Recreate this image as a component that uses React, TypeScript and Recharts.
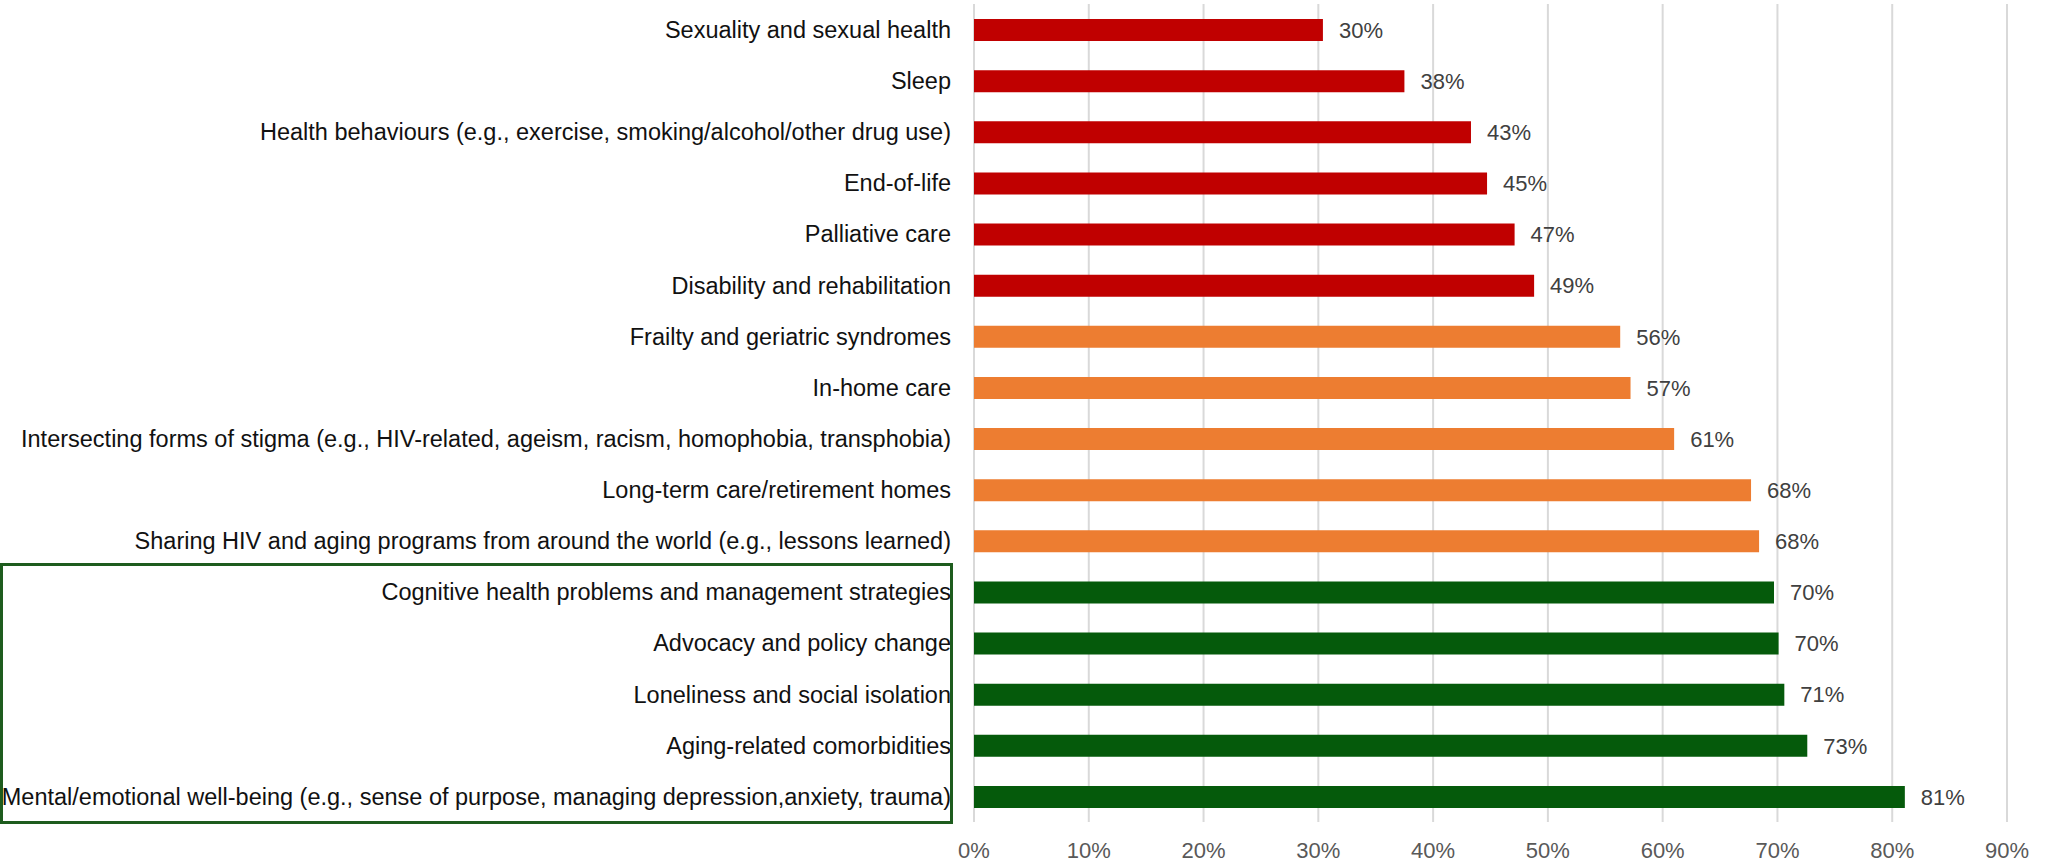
import { BarChart, Bar, XAxis, YAxis, CartesianGrid, Cell, LabelList } from 'recharts';

document.body.style.margin = '0';

const topics = [
  'Sexuality and sexual health',
  'Sleep',
  'Health behaviours (e.g., exercise, smoking/alcohol/other drug use)',
  'End-of-life',
  'Palliative care',
  'Disability and rehabilitation',
  'Frailty and geriatric syndromes',
  'In-home care',
  'Intersecting forms of stigma (e.g., HIV-related, ageism, racism, homophobia, transphobia)',
  'Long-term care/retirement homes',
  'Sharing HIV and aging programs from around the world (e.g., lessons learned)',
  'Cognitive health problems and management strategies',
  'Advocacy and policy change',
  'Loneliness and social isolation',
  'Aging-related comorbidities',
  'Mental/emotional well-being (e.g., sense of purpose, managing depression,anxiety, trauma)',
];

const shares = [30.4, 37.5, 43.3, 44.7, 47.1, 48.8, 56.3, 57.2, 61.0, 67.7, 68.4, 69.7, 70.1, 70.6, 72.6, 81.1];

const tiers = ['low', 'low', 'low', 'low', 'low', 'low', 'mid', 'mid', 'mid', 'mid', 'mid', 'high', 'high', 'high', 'high', 'high'];

const xTicks = [0, 10, 20, 30, 40, 50, 60, 70, 80, 90];

const tierColors: Record<string, string> = {
  low: '#C00000',
  mid: '#ED7D31',
  high: '#055A0B',
};

const rows = topics.map((topic, i) => ({ topic, share: shares[i], tier: tiers[i] }));

const W = 2048;
const H = 863;
const TOP = 4;
const RIGHT = 41;
const AXIS_W = 974;
const AXIS_H = 41;

export default function App() {
  const band = (H - TOP - AXIS_H) / rows.length;
  const firstHigh = tiers.indexOf('high');
  const boxTop = TOP + firstHigh * band - 3;
  const boxBottom = TOP + rows.length * band + 2;

  return (
    <div style={{ position: 'relative', width: W, height: H, background: '#fff' }}>
      <BarChart
        width={W}
        height={H}
        data={rows}
        layout="vertical"
        margin={{ top: TOP, right: RIGHT, bottom: 0, left: 0 }}
        barCategoryGap="58%"
      >
        <CartesianGrid horizontal={false} stroke="#d9d9d9" strokeWidth={2} />
        <XAxis
          type="number"
          domain={[0, 90]}
          ticks={xTicks}
          tickFormatter={(v) => `${v}%`}
          axisLine={false}
          tickLine={false}
          tickSize={0}
          tickMargin={20}
          height={AXIS_H}
          interval={0}
          tick={{ fill: '#595959', fontSize: 22, fontFamily: 'Liberation Sans, sans-serif' }}
        />
        <YAxis
          type="category"
          dataKey="topic"
          width={AXIS_W}
          axisLine={false}
          tickLine={false}
          tickSize={0}
          tickMargin={23}
          interval={0}
          tick={{ fill: '#111', fontSize: 23.5, fontFamily: 'Liberation Sans, sans-serif' }}
        />
        <Bar dataKey="share" barSize={22} isAnimationActive={false}>
          {rows.map((r) => (
            <Cell key={r.topic} fill={tierColors[r.tier]} />
          ))}
          <LabelList
            dataKey="share"
            position="right"
            offset={16}
            formatter={(v: any) => `${Math.round(Number(v))}%`}
            style={{ fill: '#404040', fontSize: 22, fontFamily: 'Liberation Sans, sans-serif' }}
          />
        </Bar>
      </BarChart>
      <div
        style={{
          position: 'absolute',
          left: 0,
          top: boxTop,
          width: AXIS_W - 21,
          height: boxBottom - boxTop,
          border: '3px solid #1E5C1E',
          boxSizing: 'border-box',
          pointerEvents: 'none',
        }}
      />
    </div>
  );
}
